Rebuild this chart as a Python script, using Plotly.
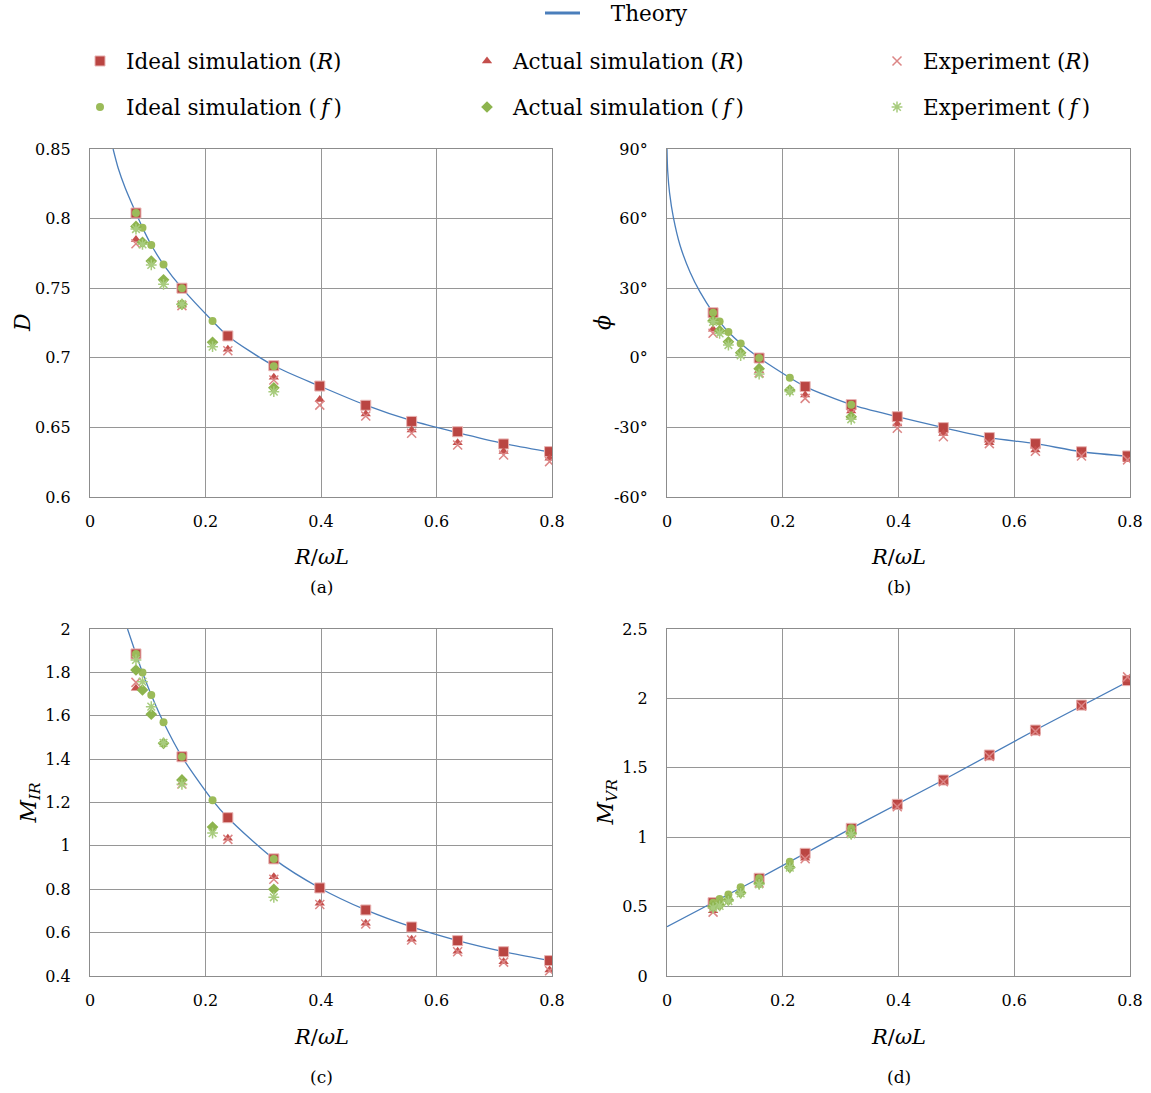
import plotly.graph_objects as go

# ---- data -------------------------------------------------------------
# R/ωL values: load-resistance sweep (R) and frequency sweep (f)
x_R = [0.0796, 0.1592, 0.2387, 0.3183, 0.3979, 0.4775, 0.5570, 0.6366, 0.7162, 0.7958]
x_f = [0.0796, 0.0909, 0.1061, 0.1273, 0.1592, 0.2122, 0.3183]

# (a) duty ratio D
xa_th = [0.040, 0.049, 0.061, 0.0796, 0.0909, 0.1061, 0.1273, 0.1592, 0.2122, 0.2387,
         0.3183, 0.3979, 0.4775, 0.5570, 0.6366, 0.7162, 0.80]
Da_th = [0.85, 0.836, 0.822, 0.804, 0.7935, 0.781, 0.767, 0.750, 0.7264, 0.7157,
         0.6943, 0.6797, 0.666, 0.6548, 0.6462, 0.6384, 0.632]
D_ideal_R = [0.804, 0.750, 0.7157, 0.6943, 0.6797, 0.6659, 0.6543, 0.6469, 0.6381, 0.6326]
D_actual_R = [0.785, 0.738, 0.7061, 0.686, 0.670, 0.6596, 0.6481, 0.639, 0.6326, 0.6278]
D_exp_R = [0.782, 0.7375, 0.705, 0.684, 0.666, 0.6582, 0.6458, 0.6374, 0.6302, 0.6254]
D_ideal_f = [0.804, 0.7935, 0.781, 0.767, 0.750, 0.7264, 0.694]
D_actual_f = [0.7944, 0.783, 0.7695, 0.756, 0.7384, 0.7111, 0.6785]
D_exp_f = [0.7925, 0.7815, 0.7667, 0.7528, 0.7385, 0.708, 0.6757]

# (b) phase ϕ in degrees
xb_th = [0.0, 0.0012, 0.0045, 0.011, 0.0225, 0.0397, 0.057, 0.0796, 0.0909, 0.1061, 0.1273,
         0.1592, 0.2122, 0.2387, 0.3183, 0.3979, 0.4775, 0.5570, 0.6366, 0.7162, 0.80]
phi_th = [90, 80.5, 71.0, 60.5, 48.5, 37.0, 28.4, 19.4, 15.6, 11.1, 6.2,
          0.0, -8.6, -12.4, -20.2, -25.4, -30.1, -34.4, -37.0, -40.5, -42.5]
phi_ideal_R = [19.4, -0.1, -12.4, -20.2, -25.4, -30.1, -34.4, -37.0, -40.5, -42.3]
phi_actual_R = [12.3, -5.5, -16.0, -22.9, -28.5, -32.6, -36.6, -39.7, -41.9, -43.8]
phi_exp_R = [10.6, -6.5, -17.5, -24.0, -30.4, -34.0, -37.0, -40.3, -42.3, -44.0]
phi_ideal_f = [19.4, 15.6, 11.1, 6.2, -0.1, -8.6, -20.2]
phi_actual_f = [16.0, 11.7, 6.9, 2.2, -4.7, -13.9, -25.4]
phi_exp_f = [15.5, 10.5, 5.5, 1.0, -7.0, -14.5, -26.5]

# (c) current ratio M_IR
xc_th = [0.065, 0.0796, 0.0909, 0.1061, 0.1273, 0.1592, 0.2122, 0.2387, 0.3183,
         0.3979, 0.4775, 0.5570, 0.6366, 0.7162, 0.80]
MI_th = [2.0, 1.885, 1.799, 1.696, 1.570, 1.411, 1.210, 1.130, 0.940,
         0.806, 0.7045, 0.626, 0.563, 0.512, 0.469]
MI_ideal_R = [1.885, 1.411, 1.130, 0.940, 0.806, 0.7045, 0.626, 0.563, 0.512, 0.471]
MI_actual_R = [1.727, 1.29, 1.035, 0.858, 0.735, 0.643, 0.569, 0.514, 0.466, 0.428]
MI_exp_R = [1.754, 1.285, 1.03, 0.846, 0.73, 0.64, 0.566, 0.512, 0.464, 0.424]
MI_ideal_f = [1.885, 1.799, 1.696, 1.570, 1.411, 1.210, 0.940]
MI_actual_f = [1.811, 1.719, 1.607, 1.473, 1.304, 1.087, 0.800]
MI_exp_f = [1.857, 1.757, 1.642, 1.475, 1.284, 1.059, 0.763]

# (d) voltage ratio M_VR
xd_th = [0.0, 0.0796, 0.1592, 0.3183, 0.4775, 0.6366, 0.80]
MV_th = [0.355, 0.528, 0.704, 1.064, 1.412, 1.772, 2.128]
MV_ideal_R = [0.528, 0.704, 0.884, 1.064, 1.237, 1.412, 1.592, 1.772, 1.952, 2.128]
MV_actual_R = [0.47, 0.675, 0.848, 1.04, 1.225, 1.405, 1.585, 1.765, 1.945, 2.135]
MV_exp_R = [0.46, 0.67, 0.845, 1.035, 1.22, 1.40, 1.582, 1.762, 1.945, 2.155]
MV_ideal_f = [0.528, 0.555, 0.588, 0.639, 0.704, 0.824, 1.064]
MV_actual_f = [0.50, 0.511, 0.548, 0.600, 0.668, 0.783, 1.028]
MV_exp_f = [0.49, 0.505, 0.54, 0.595, 0.66, 0.78, 1.02]

x_ticks = [0, 0.2, 0.4, 0.6, 0.8]
x_ticktext = ["0", "0.2", "0.4", "0.6", "0.8"]
a_ticks = [0.6, 0.65, 0.7, 0.75, 0.8, 0.85]
a_ticktext = ["0.6", "0.65", "0.7", "0.75", "0.8", "0.85"]
b_ticks = [-60, -30, 0, 30, 60, 90]
b_ticktext = ["-60°", "-30°", "0°", "30°", "60°", "90°"]
c_ticks = [0.4, 0.6, 0.8, 1.0, 1.2, 1.4, 1.6, 1.8, 2.0]
c_ticktext = ["0.4", "0.6", "0.8", "1", "1.2", "1.4", "1.6", "1.8", "2"]
d_ticks = [0, 0.5, 1.0, 1.5, 2.0, 2.5]
d_ticktext = ["0", "0.5", "1", "1.5", "2", "2.5"]

panel_titles = ["(a)", "(b)", "(c)", "(d)"]

# ---- styling ----------------------------------------------------------
W, H = 1151, 1093
FONT = "DejaVu Serif"
BLUE = "#4A7EBB"
series_style = {
    "ideal_R": dict(name="Ideal simulation (<i>R</i>)", symbol="square", size=10,
                    color="#BA4542", line=dict(color="#E8B4B3", width=1)),
    "actual_R": dict(name="Actual simulation (<i>R</i>)", symbol="triangle-up", size=9,
                     color="#C44F4C", line=dict(color="#C44F4C", width=0)),
    "exp_R": dict(name="Experiment (<i>R</i>)", symbol="x-thin", size=9,
                  color="#DC8686", line=dict(color="#DC8686", width=1.5)),
    "ideal_f": dict(name="Ideal simulation (\u2009<i>f</i>\u2009)", symbol="circle", size=8,
                    color="#9BBB59", line=dict(color="#9BBB59", width=0)),
    "actual_f": dict(name="Actual simulation (\u2009<i>f</i>\u2009)", symbol="diamond", size=9,
                     color="#8DB44E", line=dict(color="#8DB44E", width=0)),
    "exp_f": dict(name="Experiment (\u2009<i>f</i>\u2009)", symbol="asterisk", size=9,
                  color="#A8CC7E", line=dict(color="#A8CC7E", width=1.5)),
}
legend_slot = {"ideal_R": 2, "actual_R": 3, "exp_R": 4,
               "ideal_f": 5, "actual_f": 6, "exp_f": 7}

def px_x(p):
    return p / W

def px_y(p):
    return 1 - p / H

# plot-area boxes in pixels: (left, right, top, bottom)
boxes = [(90, 552, 149, 497), (667, 1130, 149, 497),
         (90, 552, 629, 976), (667, 1130, 629, 976)]

panels = [
    dict(xt=xa_th, yt=Da_th,
         ideal_R=D_ideal_R, actual_R=D_actual_R, exp_R=D_exp_R,
         ideal_f=D_ideal_f, actual_f=D_actual_f, exp_f=D_exp_f,
         yr=[0.6, 0.85], yt_vals=a_ticks, yt_text=a_ticktext, shape="spline"),
    dict(xt=xb_th, yt=phi_th,
         ideal_R=phi_ideal_R, actual_R=phi_actual_R, exp_R=phi_exp_R,
         ideal_f=phi_ideal_f, actual_f=phi_actual_f, exp_f=phi_exp_f,
         yr=[-60, 90], yt_vals=b_ticks, yt_text=b_ticktext, shape="spline"),
    dict(xt=xc_th, yt=MI_th,
         ideal_R=MI_ideal_R, actual_R=MI_actual_R, exp_R=MI_exp_R,
         ideal_f=MI_ideal_f, actual_f=MI_actual_f, exp_f=MI_exp_f,
         yr=[0.4, 2.0], yt_vals=c_ticks, yt_text=c_ticktext, shape="spline"),
    dict(xt=xd_th, yt=MV_th,
         ideal_R=MV_ideal_R, actual_R=MV_actual_R, exp_R=MV_exp_R,
         ideal_f=MV_ideal_f, actual_f=MV_actual_f, exp_f=MV_exp_f,
         yr=[0, 2.5], yt_vals=d_ticks, yt_text=d_ticktext, shape="linear"),
]

fig = go.Figure()
order = ["ideal_R", "actual_R", "exp_R", "ideal_f", "actual_f", "exp_f"]

# legend key for the theory curve (drawn with a heavier stroke than the curve itself)
fig.add_trace(go.Scatter(x=[None], y=[None], mode="lines",
                         name="\u2003\u2009Theory", line=dict(color=BLUE, width=3.2),
                         legend="legend", hoverinfo="skip"))

for i, p in enumerate(panels):
    ax = "" if i == 0 else str(i + 1)
    first = i == 0
    fig.add_trace(go.Scatter(
        x=p["xt"], y=p["yt"], mode="lines", name="Theory",
        line=dict(color=BLUE, width=1.3, shape=p["shape"], smoothing=0.8),
        xaxis="x" + ax, yaxis="y" + ax, showlegend=False))
    for key in order:
        s = series_style[key]
        xs = x_R if key.endswith("_R") else x_f
        fig.add_trace(go.Scatter(
            x=xs, y=p[key], mode="markers", name=s["name"],
            marker=dict(symbol=s["symbol"], size=s["size"], color=s["color"], line=s["line"]),
            xaxis="x" + ax, yaxis="y" + ax, showlegend=first,
            legend="legend" + str(legend_slot[key])))

axis_common = dict(showgrid=True, gridcolor="#969696", gridwidth=1.3,
                   showline=True, linecolor="#8C8C8C", linewidth=1.3, mirror=True,
                   zeroline=False, ticks="", tickfont=dict(family=FONT, size=16, color="black"))

layout = dict(width=W, height=H, margin=dict(l=0, r=0, t=0, b=0, autoexpand=False),
              paper_bgcolor="white", plot_bgcolor="white", showlegend=True,
              font=dict(family=FONT, color="black"))

for i, (l, r, t, b) in enumerate(boxes):
    ax = "" if i == 0 else str(i + 1)
    p = panels[i]
    layout["xaxis" + ax] = dict(axis_common, domain=[px_x(l), px_x(r)], range=[0, 0.8],
                                tickvals=x_ticks, ticktext=x_ticktext,
                                anchor="y" + ax, ticklabelstandoff=10)
    layout["yaxis" + ax] = dict(axis_common, domain=[px_y(b), px_y(t)], range=p["yr"],
                                tickvals=p["yt_vals"], ticktext=p["yt_text"],
                                anchor="x" + ax, ticklabelstandoff=15)

# legends: one per entry, arranged in a 3-column grid under a centred "Theory"
leg_font = dict(family=FONT, size=21.5, color="black")
def leg(xpx, ypx, iw=42):
    return dict(x=px_x(xpx), y=px_y(ypx), xanchor="left", yanchor="middle",
                bgcolor="rgba(0,0,0,0)", font=leg_font, itemwidth=iw,
                borderwidth=0, tracegroupgap=0)

layout["legend"] = leg(540, 13, iw=35)
col_x = [74, 461, 871]
row_y = [61, 107]
for key, slot in legend_slot.items():
    col = (slot - 2) % 3
    row = (slot - 2) // 3
    layout["legend" + str(slot)] = leg(col_x[col], row_y[row])

fig.update_layout(**layout)

# axis titles and panel labels
ann = []
xtitle = "<i>R</i>/<i>ωL</i>"
ytitles = ["<i>D</i>", "<i>ϕ</i>", "<i>M</i><sub><i>IR</i></sub>", "<i>M</i><sub><i>VR</i></sub>"]
ytitle_x = [22, 602, 30, 607]
xtitle_y = [557, 557, 1037, 1037]
label_y = [587, 587, 1077, 1077]
for i, (l, r, t, b) in enumerate(boxes):
    cx = (l + r) / 2
    ann.append(dict(x=px_x(cx), y=px_y(xtitle_y[i]), xref="paper", yref="paper",
                    text=xtitle, showarrow=False, font=dict(family=FONT, size=21),
                    xanchor="center", yanchor="middle"))
    ann.append(dict(x=px_x(cx), y=px_y(label_y[i]), xref="paper", yref="paper",
                    text=panel_titles[i], showarrow=False, font=dict(family=FONT, size=17),
                    xanchor="center", yanchor="middle"))
    ann.append(dict(x=px_x(ytitle_x[i]), y=px_y((t + b) / 2), xref="paper", yref="paper",
                    text=ytitles[i], showarrow=False, textangle=-90,
                    font=dict(family=FONT, size=22), xanchor="center", yanchor="middle"))
fig.update_layout(annotations=ann)

fig.write_html("out.html")
